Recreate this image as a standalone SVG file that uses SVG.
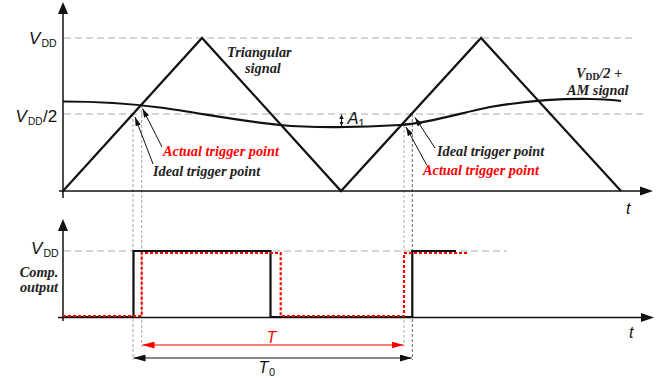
<svg xmlns="http://www.w3.org/2000/svg" width="671" height="378" viewBox="0 0 671 378">
<defs>
<style>
.axis{stroke:#111;stroke-width:1.5;fill:none}
.sig{stroke:#111;stroke-width:2.2;fill:none;stroke-linejoin:miter}
.grid{stroke:#aaa;stroke-width:1;stroke-dasharray:7 4;fill:none}
.guide{stroke:#999;stroke-width:0.9;stroke-dasharray:3 2;fill:none}
.guideD{stroke:#555;stroke-width:0.9;stroke-dasharray:3 2;fill:none}
.guideL{stroke:#bbb;stroke-width:1.2;stroke-dasharray:3 2;fill:none}
.ptr{stroke:#111;stroke-width:1;fill:none}
.sans{font-family:"Liberation Sans",Arial,sans-serif;fill:#111}
.it{font-style:italic}
.lbl{font-family:"Liberation Serif","Times New Roman",serif;font-weight:bold;font-style:italic;font-size:14.3px;fill:#222}
.red{fill:#f00}
</style>
<marker id="ah" viewBox="0 0 10 10" refX="10" refY="5" markerWidth="9" markerHeight="5.5" markerUnits="userSpaceOnUse" orient="auto" preserveAspectRatio="none"><path d="M0,0 L10,5 L0,10 z" fill="#111"/></marker>
<marker id="ahs" viewBox="0 0 10 10" refX="10" refY="5" markerWidth="4.5" markerHeight="4.5" markerUnits="userSpaceOnUse" orient="auto-start-reverse" preserveAspectRatio="none"><path d="M0,0 L10,5 L0,10 z" fill="#111"/></marker>
<marker id="ahT" viewBox="0 0 10 10" refX="10" refY="5" markerWidth="12" markerHeight="7" markerUnits="userSpaceOnUse" orient="auto-start-reverse" preserveAspectRatio="none"><path d="M0,0 L10,5 L0,10 z" fill="#f00"/></marker>
<marker id="ahK" viewBox="0 0 10 10" refX="10" refY="5" markerWidth="12" markerHeight="7" markerUnits="userSpaceOnUse" orient="auto-start-reverse" preserveAspectRatio="none"><path d="M0,0 L10,5 L0,10 z" fill="#111"/></marker>
</defs>
<rect width="671" height="378" fill="#fff"/>

<g id="grid-lines">
<line class="grid" x1="64" y1="38" x2="633" y2="38"/>
<line class="grid" x1="64" y1="114" x2="643" y2="114"/>
<line class="grid" x1="64" y1="251" x2="507" y2="251"/>
</g>

<g id="guides">
<line class="guide" x1="133" y1="114" x2="133" y2="360"/>
<line class="guide" x1="141.7" y1="105" x2="141.7" y2="347"/>
<line class="guideL" x1="404" y1="125" x2="404" y2="347"/>
<line class="guideD" x1="412.3" y1="114" x2="412.3" y2="360"/>
</g>

<g id="axes">
<line class="axis" x1="63" y1="12" x2="63" y2="198"/>
<path d="M63,2 L58,14 L68,14 z" fill="#111"/>
<line class="axis" x1="59" y1="191" x2="642" y2="191"/>
<path d="M653,191 L640,186.5 L640,195.5 z" fill="#111"/>
<line class="axis" x1="63" y1="229" x2="63" y2="321"/>
<path d="M63,219 L58,231 L68,231 z" fill="#111"/>
<line class="axis" x1="58" y1="317.5" x2="643" y2="317.5"/>
<path d="M654,317.5 L641,313 L641,322 z" fill="#111"/>
</g>

<g id="triangular-signal">
<polyline class="sig" points="63,191 202,38 341,191 481,38 621,191"/>
</g>

<g id="am-signal">
<path class="sig" d="M63,101.5 C100,101.5 130,103.5 160,107.5 C200,113 240,121 280,125 C310,128 360,127.5 400,125 C430,123 460,113 490,107 C520,102 560,98.5 590,99 C605,99.2 615,100 621,101"/>
</g>

<g id="comp-output-ideal">
<polyline class="sig" points="63,317 133.5,317 133.5,251 270.5,251 270.5,317 412.3,317 412.3,251 456,251"/>
</g>
<g id="comp-output-actual">
<polyline points="63,316 141.7,316 141.7,253 280.7,253 280.7,316 404,316 404,253 467,253" fill="none" stroke="#f00" stroke-width="2.2" stroke-dasharray="3 2"/>
</g>

<g id="connectors">
<line class="ptr" x1="162" y1="147" x2="142.5" y2="108.5" marker-end="url(#ah)"/>
<line class="ptr" x1="153" y1="164" x2="135" y2="117" marker-end="url(#ah)"/>
<line class="ptr" x1="435" y1="148" x2="415" y2="117.5" marker-end="url(#ah)"/>
<line class="ptr" x1="426.7" y1="165" x2="406" y2="127" marker-end="url(#ah)"/>
<line class="ptr" x1="341.5" y1="114.5" x2="341.5" y2="126" marker-start="url(#ahs)" marker-end="url(#ahs)"/>
<line x1="142.5" y1="345" x2="403.5" y2="345" stroke="#f00" stroke-width="1.2" marker-start="url(#ahT)" marker-end="url(#ahT)"/>
<line x1="133.5" y1="358" x2="411.8" y2="358" stroke="#111" stroke-width="1.2" marker-start="url(#ahK)" marker-end="url(#ahK)"/>
</g>

<g id="labels">
<text class="sans" font-size="17"><tspan class="it" x="29" y="43.5">V</tspan><tspan x="41.5" y="46.5" font-size="10.5">DD</tspan></text>
<text class="sans" font-size="17"><tspan class="it" x="15.5" y="122">V</tspan><tspan x="28" y="125" font-size="10">DD</tspan><tspan x="43" y="122">/2</tspan></text>
<text class="sans" font-size="17"><tspan class="it" x="31" y="253.5">V</tspan><tspan x="43.5" y="256.5" font-size="10.5">DD</tspan></text>
<text class="sans" font-size="16.5"><tspan class="it" x="347.5" y="124">A</tspan><tspan x="358.5" y="127" font-size="11">1</tspan></text>
<text class="sans it" font-size="16" x="626" y="213.5">t</text>
<text class="sans it" font-size="16" x="629" y="337.5">t</text>
<text class="sans it red" font-size="16" x="266.5" y="343">T</text>
<text class="sans" font-size="16"><tspan class="it" x="258.5" y="373">T</tspan><tspan x="269" y="376" font-size="11">0</tspan></text>

<text class="lbl"><tspan x="227" y="57">Triangular</tspan><tspan x="245" y="73">signal</tspan></text>
<text class="lbl"><tspan x="576" y="78">V</tspan><tspan y="80" font-size="9.5" font-style="normal">DD</tspan><tspan y="78">/2 +</tspan><tspan x="567" y="95">AM signal</tspan></text>
<text class="lbl" font-size="13.5" text-anchor="middle"><tspan x="39" y="277">Comp.</tspan><tspan x="39" y="292">output</tspan></text>
<text class="lbl red" x="163" y="156">Actual trigger point</text>
<text class="lbl" x="153" y="175.5">Ideal trigger point</text>
<text class="lbl" x="437" y="155.5">Ideal trigger point</text>
<text class="lbl red" x="423" y="175">Actual trigger point</text>
</g>
</svg>
